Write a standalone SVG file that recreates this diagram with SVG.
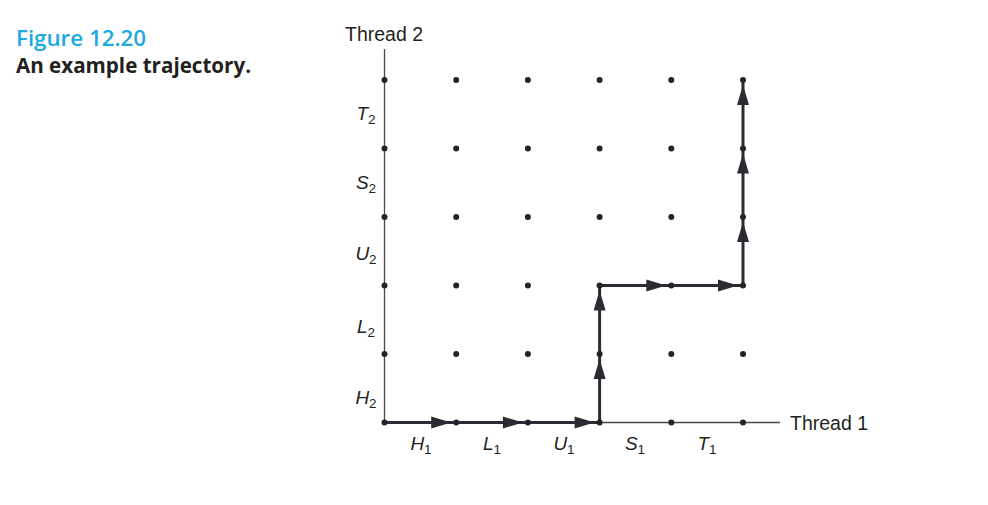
<svg xmlns="http://www.w3.org/2000/svg" width="988" height="505" viewBox="0 0 988 505">
<style>
.title{font-family:"Open Sans","Noto Sans",sans-serif;font-weight:600;font-size:22.3px;fill:#1aa9e0}
.caption{font-family:"Open Sans","Noto Sans",sans-serif;font-weight:700;font-size:20.6px;fill:#231f20}
.ax{font-family:"Liberation Sans",Arial,sans-serif;font-size:19.5px;fill:#231f20}
.lbl{font-family:"Liberation Sans",Arial,sans-serif;font-style:italic;font-size:19px;fill:#231f20}
.sub{font-style:normal;font-size:13.5px}
.axis{stroke:#4a4a4a;stroke-width:1.3;fill:none}
.traj{stroke:#2b2b33;stroke-width:3;fill:none;marker-end:url(#ah)}
.dot{fill:#232328}
</style>
<defs>
<marker id="ah" markerUnits="userSpaceOnUse" markerWidth="26" markerHeight="13" viewBox="0 0 26 13" refX="25" refY="6.5" orient="auto" overflow="visible">
<path d="M0,0.5 L20,6.5 L0,12.5 Z" fill="#2b2b33"/>
</marker>
</defs>
<rect width="988" height="505" fill="#ffffff"/>
<g id="caption">
<text class="title" x="16" y="46">Figure 12.20</text>
<text class="caption" x="16" y="73">An example trajectory.</text>
</g>
<g id="axes">
<line class="axis" x1="384.5" y1="49" x2="384.5" y2="422.5"/>
<line class="axis" x1="384.5" y1="422.5" x2="780" y2="422.5"/>
<text class="ax" x="345" y="41">Thread 2</text>
<text class="ax" x="790" y="430">Thread 1</text>
</g>
<g id="labels-thread2">
<text class="lbl" x="366" y="120" text-anchor="middle">T<tspan class="sub" dy="4">2</tspan></text>
<text class="lbl" x="366" y="189" text-anchor="middle">S<tspan class="sub" dy="4">2</tspan></text>
<text class="lbl" x="366" y="260" text-anchor="middle">U<tspan class="sub" dy="4">2</tspan></text>
<text class="lbl" x="366" y="333" text-anchor="middle">L<tspan class="sub" dy="4">2</tspan></text>
<text class="lbl" x="366" y="404" text-anchor="middle">H<tspan class="sub" dy="4">2</tspan></text>
</g>
<g id="labels-thread1">
<text class="lbl" x="421" y="450" text-anchor="middle">H<tspan class="sub" dy="4">1</tspan></text>
<text class="lbl" x="492" y="450" text-anchor="middle">L<tspan class="sub" dy="4">1</tspan></text>
<text class="lbl" x="564" y="450" text-anchor="middle">U<tspan class="sub" dy="4">1</tspan></text>
<text class="lbl" x="635" y="450" text-anchor="middle">S<tspan class="sub" dy="4">1</tspan></text>
<text class="lbl" x="707" y="450" text-anchor="middle">T<tspan class="sub" dy="4">1</tspan></text>
</g>
<g id="connectors">
<line class="traj" x1="384.5" y1="422.5" x2="456.2" y2="422.5"/>
<line class="traj" x1="456.2" y1="422.5" x2="527.9" y2="422.5"/>
<line class="traj" x1="527.9" y1="422.5" x2="599.6" y2="422.5"/>
<line class="traj" x1="599.6" y1="422.5" x2="599.6" y2="354"/>
<line class="traj" x1="599.6" y1="354" x2="599.6" y2="285.5"/>
<line class="traj" x1="599.6" y1="285.5" x2="671.3" y2="285.5"/>
<line class="traj" x1="671.3" y1="285.5" x2="743" y2="285.5"/>
<line class="traj" x1="743" y1="285.5" x2="743" y2="217"/>
<line class="traj" x1="743" y1="217" x2="743" y2="148.5"/>
<line class="traj" x1="743" y1="148.5" x2="743" y2="80"/>
</g>
<g id="grid">
<circle class="dot" cx="384.5" cy="80" r="3"/><circle class="dot" cx="456.2" cy="80" r="3"/><circle class="dot" cx="527.9" cy="80" r="3"/><circle class="dot" cx="599.6" cy="80" r="3"/><circle class="dot" cx="671.3" cy="80" r="3"/><circle class="dot" cx="743" cy="80" r="3"/>
<circle class="dot" cx="384.5" cy="148.5" r="3"/><circle class="dot" cx="456.2" cy="148.5" r="3"/><circle class="dot" cx="527.9" cy="148.5" r="3"/><circle class="dot" cx="599.6" cy="148.5" r="3"/><circle class="dot" cx="671.3" cy="148.5" r="3"/><circle class="dot" cx="743" cy="148.5" r="3"/>
<circle class="dot" cx="384.5" cy="217" r="3"/><circle class="dot" cx="456.2" cy="217" r="3"/><circle class="dot" cx="527.9" cy="217" r="3"/><circle class="dot" cx="599.6" cy="217" r="3"/><circle class="dot" cx="671.3" cy="217" r="3"/><circle class="dot" cx="743" cy="217" r="3"/>
<circle class="dot" cx="384.5" cy="285.5" r="3"/><circle class="dot" cx="456.2" cy="285.5" r="3"/><circle class="dot" cx="527.9" cy="285.5" r="3"/><circle class="dot" cx="599.6" cy="285.5" r="3"/><circle class="dot" cx="671.3" cy="285.5" r="3"/><circle class="dot" cx="743" cy="285.5" r="3"/>
<circle class="dot" cx="384.5" cy="354" r="3"/><circle class="dot" cx="456.2" cy="354" r="3"/><circle class="dot" cx="527.9" cy="354" r="3"/><circle class="dot" cx="599.6" cy="354" r="3"/><circle class="dot" cx="671.3" cy="354" r="3"/><circle class="dot" cx="743" cy="354" r="3"/>
<circle class="dot" cx="384.5" cy="422.5" r="3"/><circle class="dot" cx="456.2" cy="422.5" r="3"/><circle class="dot" cx="527.9" cy="422.5" r="3"/><circle class="dot" cx="599.6" cy="422.5" r="3"/><circle class="dot" cx="671.3" cy="422.5" r="3"/><circle class="dot" cx="743" cy="422.5" r="3"/>
</g>
</svg>
